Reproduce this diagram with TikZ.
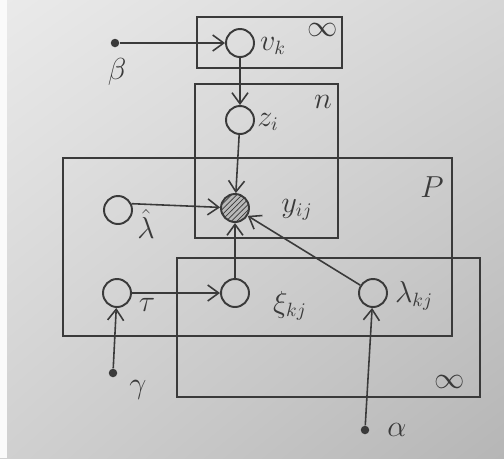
\documentclass[tikz,border=0pt]{standalone}
\usetikzlibrary{arrows.meta,patterns,shadings}
\definecolor{ink}{HTML}{3a3a3a}
\definecolor{bgul}{RGB}{234,234,234}
\definecolor{bgur}{RGB}{214,214,214}
\definecolor{bgll}{RGB}{208,208,208}
\definecolor{bglr}{RGB}{182,182,182}
\begin{document}
\begin{tikzpicture}[x=0.02cm,y=-0.02cm,
  latent/.style={circle, draw=ink, line width=1.1pt, minimum size=0.56cm, inner sep=0pt},
  obs/.style={latent, preaction={fill=gray!55}, pattern=north east lines, pattern color=ink},
  hyper/.style={circle, fill=ink, minimum size=0.17cm, inner sep=0pt},
  plate/.style={draw=ink, line width=1.1pt},
  edge/.style={draw=ink, line width=0.9pt, -{Straight Barb[length=2.2mm,width=3.2mm]}},
  lab/.style={text=ink, inner sep=0pt, font=\fontsize{16}{18}\selectfont}]
\useasboundingbox (0,0) rectangle (504,458);
\shade[upper left=bgul, upper right=bgur, lower left=bgll, lower right=bglr]
  (0,0) rectangle (504,458);
\fill[white!96!gray] (0,0) rectangle (7,458);
% plates
\draw[plate] (197,17) rectangle (342,68);
\draw[plate] (195,84) rectangle (338,238);
\draw[plate] (63,158) rectangle (452,336);
\draw[plate] (177,258) rectangle (480,397);
\node[lab] (inftop) at (323,30) {$\infty$};
\node[lab] (nlab) at (323,102) {$n$};
\node[lab] (plab) at (432,187) {$P$};
\node[lab] (infbot) at (450,382) {$\infty$};
% nodes
\node[latent] (vk) at (240,43) {};
\node[latent] (zi) at (240,120) {};
\node[obs] (yij) at (235,208) {};
\node[latent] (lam) at (118,210) {};
\node[latent] (tau) at (117,293) {};
\node[latent] (xi) at (235,293) {};
\node[latent] (lkj) at (373,293) {};
\node[hyper] (beta) at (115,43) {};
\node[hyper] (gamma) at (113,373) {};
\node[hyper] (alpha) at (365,430) {};
% labels
\node[lab] (vklab) at (273,46) {$v_k$};
\node[lab] (zilab) at (268,122) {$z_i$};
\node[lab] (yijlab) at (297,210) {$y_{ij}$};
\node[lab] (lamlab) at (146,224) {$\hat{\lambda}$};
\node[lab] (taulab) at (147,305) {$\tau$};
\node[lab] (xilab) at (290,306) {$\xi_{kj}$};
\node[lab] (lkjlab) at (414,296) {$\lambda_{kj}$};
\node[lab] (betalab) at (117,72) {$\beta$};
\node[lab] (gammalab) at (138,390) {$\gamma$};
\node[lab] (alphalab) at (397,430) {$\alpha$};
% edges
\draw[edge] (beta) -- (vk);
\draw[edge] (vk) -- (zi);
\draw[edge] (zi) -- (yij);
\draw[edge] (lam.25) -- (yij);
\draw[edge] (xi) -- (yij);
\draw[edge] (lkj) -- (yij);
\draw[edge] (tau) -- (xi);
\draw[edge] (gamma) -- (tau);
\draw[edge] (alpha) -- (lkj);
\end{tikzpicture}
\end{document}
